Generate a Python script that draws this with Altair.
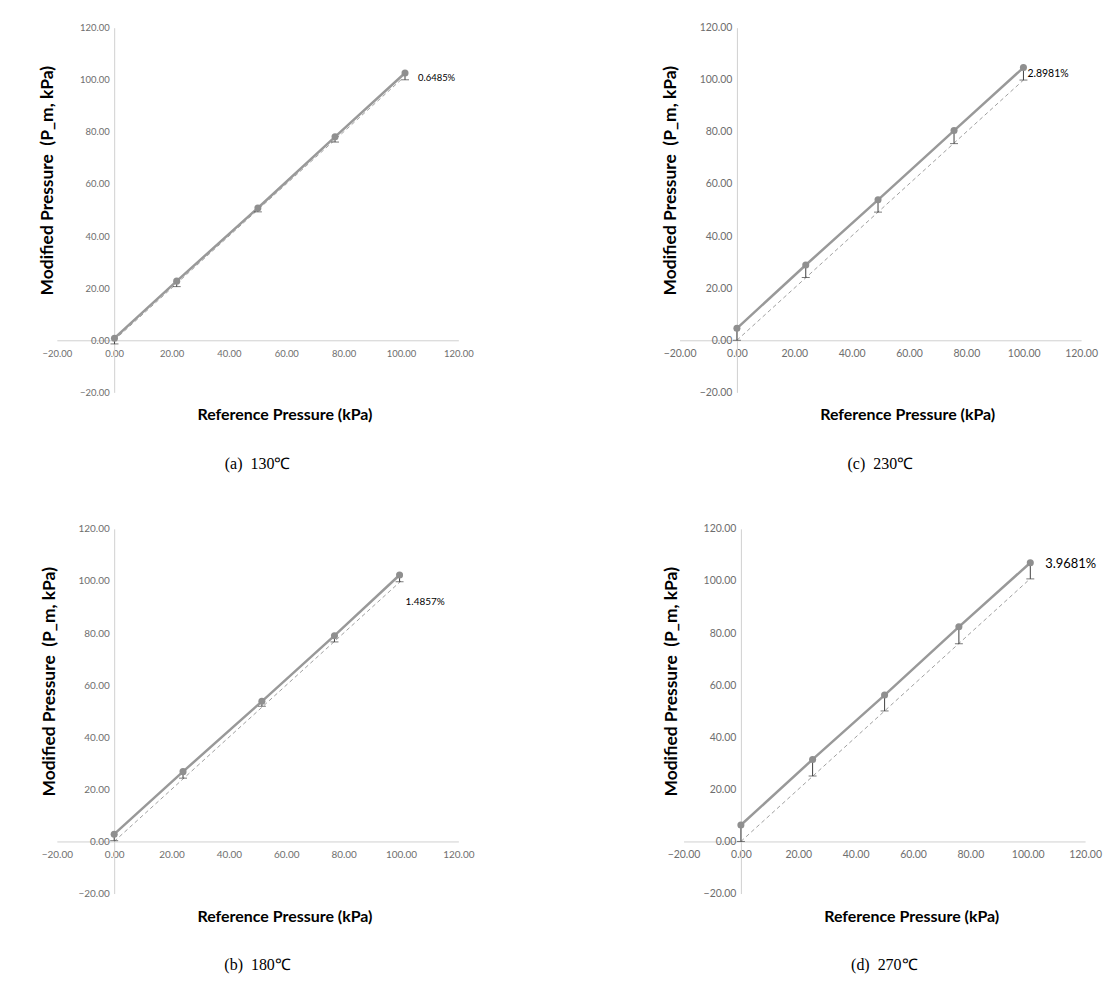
import altair as alt
import pandas as pd

# ---- data ----
ref_x = [0.0, 100.0]
ref_y = [0.0, 100.0]

a_x = [0.1, 21.8, 50.1, 77.0, 101.4]
a_y = [0.8, 22.7, 50.8, 78.1, 102.6]
a_low = [-1.4, 20.6, 49.3, 76.1, 100.0]
a_label = "0.6485%"
a_caption = "(a)\u00a0 130℃"

b_x = [0.0, 24.0, 51.5, 76.8, 99.5]
b_y = [2.8, 26.8, 53.8, 79.0, 102.3]
b_low = [0.3, 24.3, 51.9, 76.6, 99.7]
b_label = "1.4857%"
b_caption = "(b)\u00a0 180℃"

c_x = [0.0, 24.0, 49.2, 75.7, 99.9]
c_y = [4.6, 28.9, 53.9, 80.5, 104.7]
c_low = [0.0, 24.1, 49.2, 75.5, 99.9]
c_label = "2.8981%"
c_caption = "(c)\u00a0 230℃"

d_x = [0.0, 25.0, 50.1, 76.0, 100.9]
d_y = [6.3, 31.5, 56.2, 82.4, 107.0]
d_low = [0.0, 25.1, 50.1, 75.9, 100.8]
d_label = "3.9681%"
d_caption = "(d)\u00a0 270℃"

tick_values = [-20, 0, 20, 40, 60, 80, 100, 120]
x_title = "Reference Pressure (kPa)"
y_title = "Modified Pressure\u00a0 (P_m, kPa)"

W = 403
H = 366
FONT = "Lato"


def panel(xs, ys, lows, label, caption, label_dx, label_dy, label_size, tick_size, ytitle_x):
    df = pd.DataFrame({"x": xs, "y": ys, "low": lows})
    ref = pd.DataFrame({"x": ref_x, "y": ref_y})
    lab = pd.DataFrame({"x": [xs[-1]], "y": [ys[-1]], "t": [label]})

    xscale = alt.Scale(domain=[-20, 120], nice=False, zero=False)
    yscale = alt.Scale(domain=[-20, 120], nice=False, zero=False)
    xoff = -20 / 140 * H
    yoff = -20 / 140 * W
    xaxis = alt.Axis(values=tick_values, format=".2f", offset=xoff, ticks=False, grid=False,
                     domainColor="#d0d0d0", labelColor="#6e6e6e", labelFont=FONT,
                     labelFontSize=tick_size, labelPadding=8, labelOverlap=False, labelFlush=False,
                     title=x_title, titleFont=FONT, titleFontSize=16, titleFontWeight="bold",
                     titleColor="#000000", titleY=75, titleX=W / 2 + 27, titleBaseline="middle")
    yaxis = alt.Axis(values=tick_values, format=".2f", offset=yoff, ticks=False, grid=False,
                     domainColor="#d0d0d0", labelColor="#6e6e6e", labelFont=FONT,
                     labelFontSize=tick_size, labelPadding=5, labelOverlap=False, labelFlush=False,
                     title=y_title, titleFont=FONT, titleFontSize=17.5, titleFontWeight="bold",
                     titleColor="#000000", titleX=ytitle_x, titleY=H / 2 - 30,
                     titleBaseline="middle")

    base_x = alt.X("x:Q", scale=xscale, axis=xaxis)
    base_y = alt.Y("y:Q", scale=yscale, axis=yaxis)

    dashed = alt.Chart(ref).mark_line(color="#a0a0a0", strokeWidth=1, strokeDash=[4, 3]).encode(
        x=base_x, y=base_y)
    line = alt.Chart(df).mark_line(color="#999999", strokeWidth=2.5).encode(
        x=alt.X("x:Q", scale=xscale), y=alt.Y("y:Q", scale=yscale))
    err = alt.Chart(df).mark_rule(color="#404040", strokeWidth=1).encode(
        x=alt.X("x:Q", scale=xscale), y=alt.Y("y:Q", scale=yscale), y2="low:Q")
    cap = alt.Chart(df).mark_tick(color="#404040", orient="horizontal", size=8, thickness=1).encode(
        x=alt.X("x:Q", scale=xscale), y=alt.Y("low:Q", scale=yscale))
    pts = alt.Chart(df).mark_circle(color="#8f8f8f", size=50, opacity=1).encode(
        x=alt.X("x:Q", scale=xscale), y=alt.Y("y:Q", scale=yscale))
    txt = alt.Chart(lab).mark_text(align="left", baseline="middle", dx=label_dx, dy=label_dy,
                                   font=FONT, fontSize=label_size, color="#000000").encode(
        x=alt.X("x:Q", scale=xscale), y=alt.Y("y:Q", scale=yscale), text="t:N")

    return alt.layer(dashed, line, err, cap, pts, txt).properties(
        width=W, height=H,
        title=alt.TitleParams(caption, orient="bottom", font="Liberation Serif", fontSize=16,
                              fontWeight="normal", color="#000000", offset=33, anchor="middle",
                              frame="group"))


pa = panel(a_x, a_y, a_low, a_label, a_caption, 13, 5, 9.5, 9.5, -67)
pb = panel(b_x, b_y, b_low, b_label, b_caption, 6, 27, 10, 10, -65)
pc = panel(c_x, c_y, c_low, c_label, c_caption, 4, 6, 10.5, 10.5, -67)
pd_ = panel(d_x, d_y, d_low, d_label, d_caption, 15, 1, 13, 10.5, -70)

chart = alt.vconcat(
    alt.hconcat(pa, pc, spacing=188),
    alt.hconcat(pb, pd_, spacing=188),
    spacing=52,
).properties(padding={"left": 30, "top": 13, "right": 5, "bottom": 5}).configure_view(stroke=None)

chart.save("out.html", embed_options={"renderer": "svg", "actions": False})
